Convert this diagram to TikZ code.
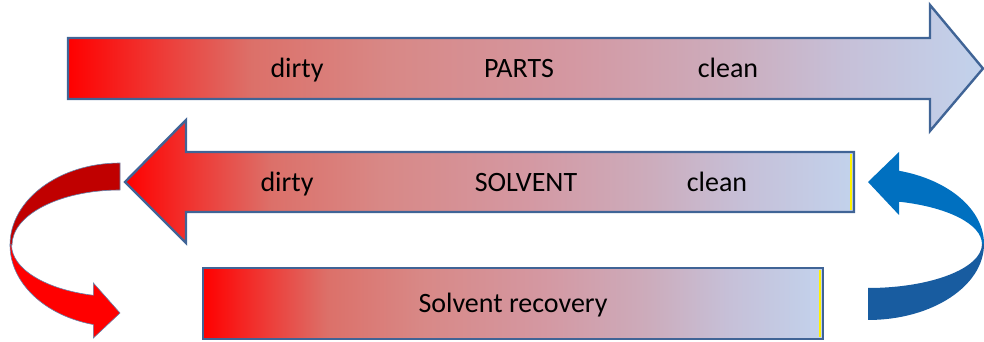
\documentclass[tikz,border=0pt]{standalone}
\usepackage{fontspec}
\setmainfont{Carlito}

\definecolor{edgeblue}{RGB}{64,100,150}
\definecolor{gradA}{RGB}{255,0,0}
\definecolor{gradB}{RGB}{238,58,54}
\definecolor{gradC}{RGB}{220,112,105}
\definecolor{gradD}{RGB}{216,136,134}
\definecolor{gradE}{RGB}{212,152,162}
\definecolor{gradF}{RGB}{204,172,188}
\definecolor{gradG}{RGB}{198,192,216}
\definecolor{gradH}{RGB}{194,210,236}
\definecolor{loopdark}{RGB}{192,0,0}
\definecolor{loopred}{RGB}{255,0,0}
\definecolor{looplight}{RGB}{0,112,192}
\definecolor{loopdeep}{RGB}{24,92,160}

\pgfdeclarehorizontalshading{flowgrad}{100bp}{color(0bp)=(gradA); color(25bp)=(gradA);
  color(30bp)=(gradB); color(35bp)=(gradC); color(42.5bp)=(gradD); color(52.5bp)=(gradE);
  color(61bp)=(gradF); color(67.5bp)=(gradG); color(75bp)=(gradH); color(100bp)=(gradH)}

\begin{document}
\begin{tikzpicture}[x=1pt,y=1pt,
  flow/.style={draw=edgeblue,line width=2.4pt,shade,shading=flowgrad},
  endmark/.style={draw=yellow,line width=2pt},
  lbl/.style={font=\fontsize{28}{32}\selectfont,inner sep=0pt,anchor=base}]
  \clip (0,0) rectangle (984,342);

  % Parts
  \path[flow] (68,243) -- (930,243) -- (930,211) -- (983,273.5) -- (930,337)
    -- (930,304) -- (68,304) -- cycle;

  % Solvent
  \path[flow] (854,130) -- (186,130) -- (186,99) -- (125,160) -- (186,222)
    -- (186,190) -- (854,190) -- cycle;
  \draw[endmark] (851,132) -- (851,188);

  % Recovery
  \path[flow] (203,3) rectangle (823,74);
  \draw[endmark] (820,5) -- (820,72);

  % Loop from solvent to recovery
  \filldraw[fill=loopdark,draw=edgeblue!80,line width=0.6pt] (120,179)
    arc[start angle=90,end angle=180,x radius=110,y radius=82] -- (12,97)
    arc[start angle=180,end angle=90,x radius=108,y radius=55] -- cycle;
  \filldraw[fill=loopred,draw=edgeblue!80,line width=0.6pt] (10,97)
    arc[start angle=180,end angle=256,x radius=110,y radius=82]
    -- (93.4,4) -- (120,29) -- (93.4,59) -- (93.4,46.7)
    arc[start angle=256,end angle=180,x radius=108,y radius=52] -- cycle;

  % Loop from recovery back to solvent
  \fill[looplight] (984,98)
    arc[start angle=0,end angle=74.5,x radius=116,y radius=76]
    -- (899,190) -- (868,160) -- (899,127) -- (899,140.3)
    arc[start angle=74.2,end angle=0,x radius=114,y radius=44] -- cycle;
  \fill[loopdeep] (984,98)
    arc[start angle=0,end angle=-90,x radius=116,y radius=76]
    -- (868,54)
    arc[start angle=-90,end angle=0,x radius=114,y radius=44] -- cycle;

  % Labels
  \node[lbl] (partsdirty) at (297,264) {dirty};
  \node[lbl] (partsname) at (519,264) {PARTS};
  \node[lbl] (partsclean) at (728,264) {clean};
  \node[lbl] (solvdirty) at (287,150) {dirty};
  \node[lbl] (solvname) at (526,150) {SOLVENT};
  \node[lbl] (solvclean) at (717,150) {clean};
  \node[lbl] (recovery) at (513,29) {Solvent recovery};
\end{tikzpicture}
\end{document}
